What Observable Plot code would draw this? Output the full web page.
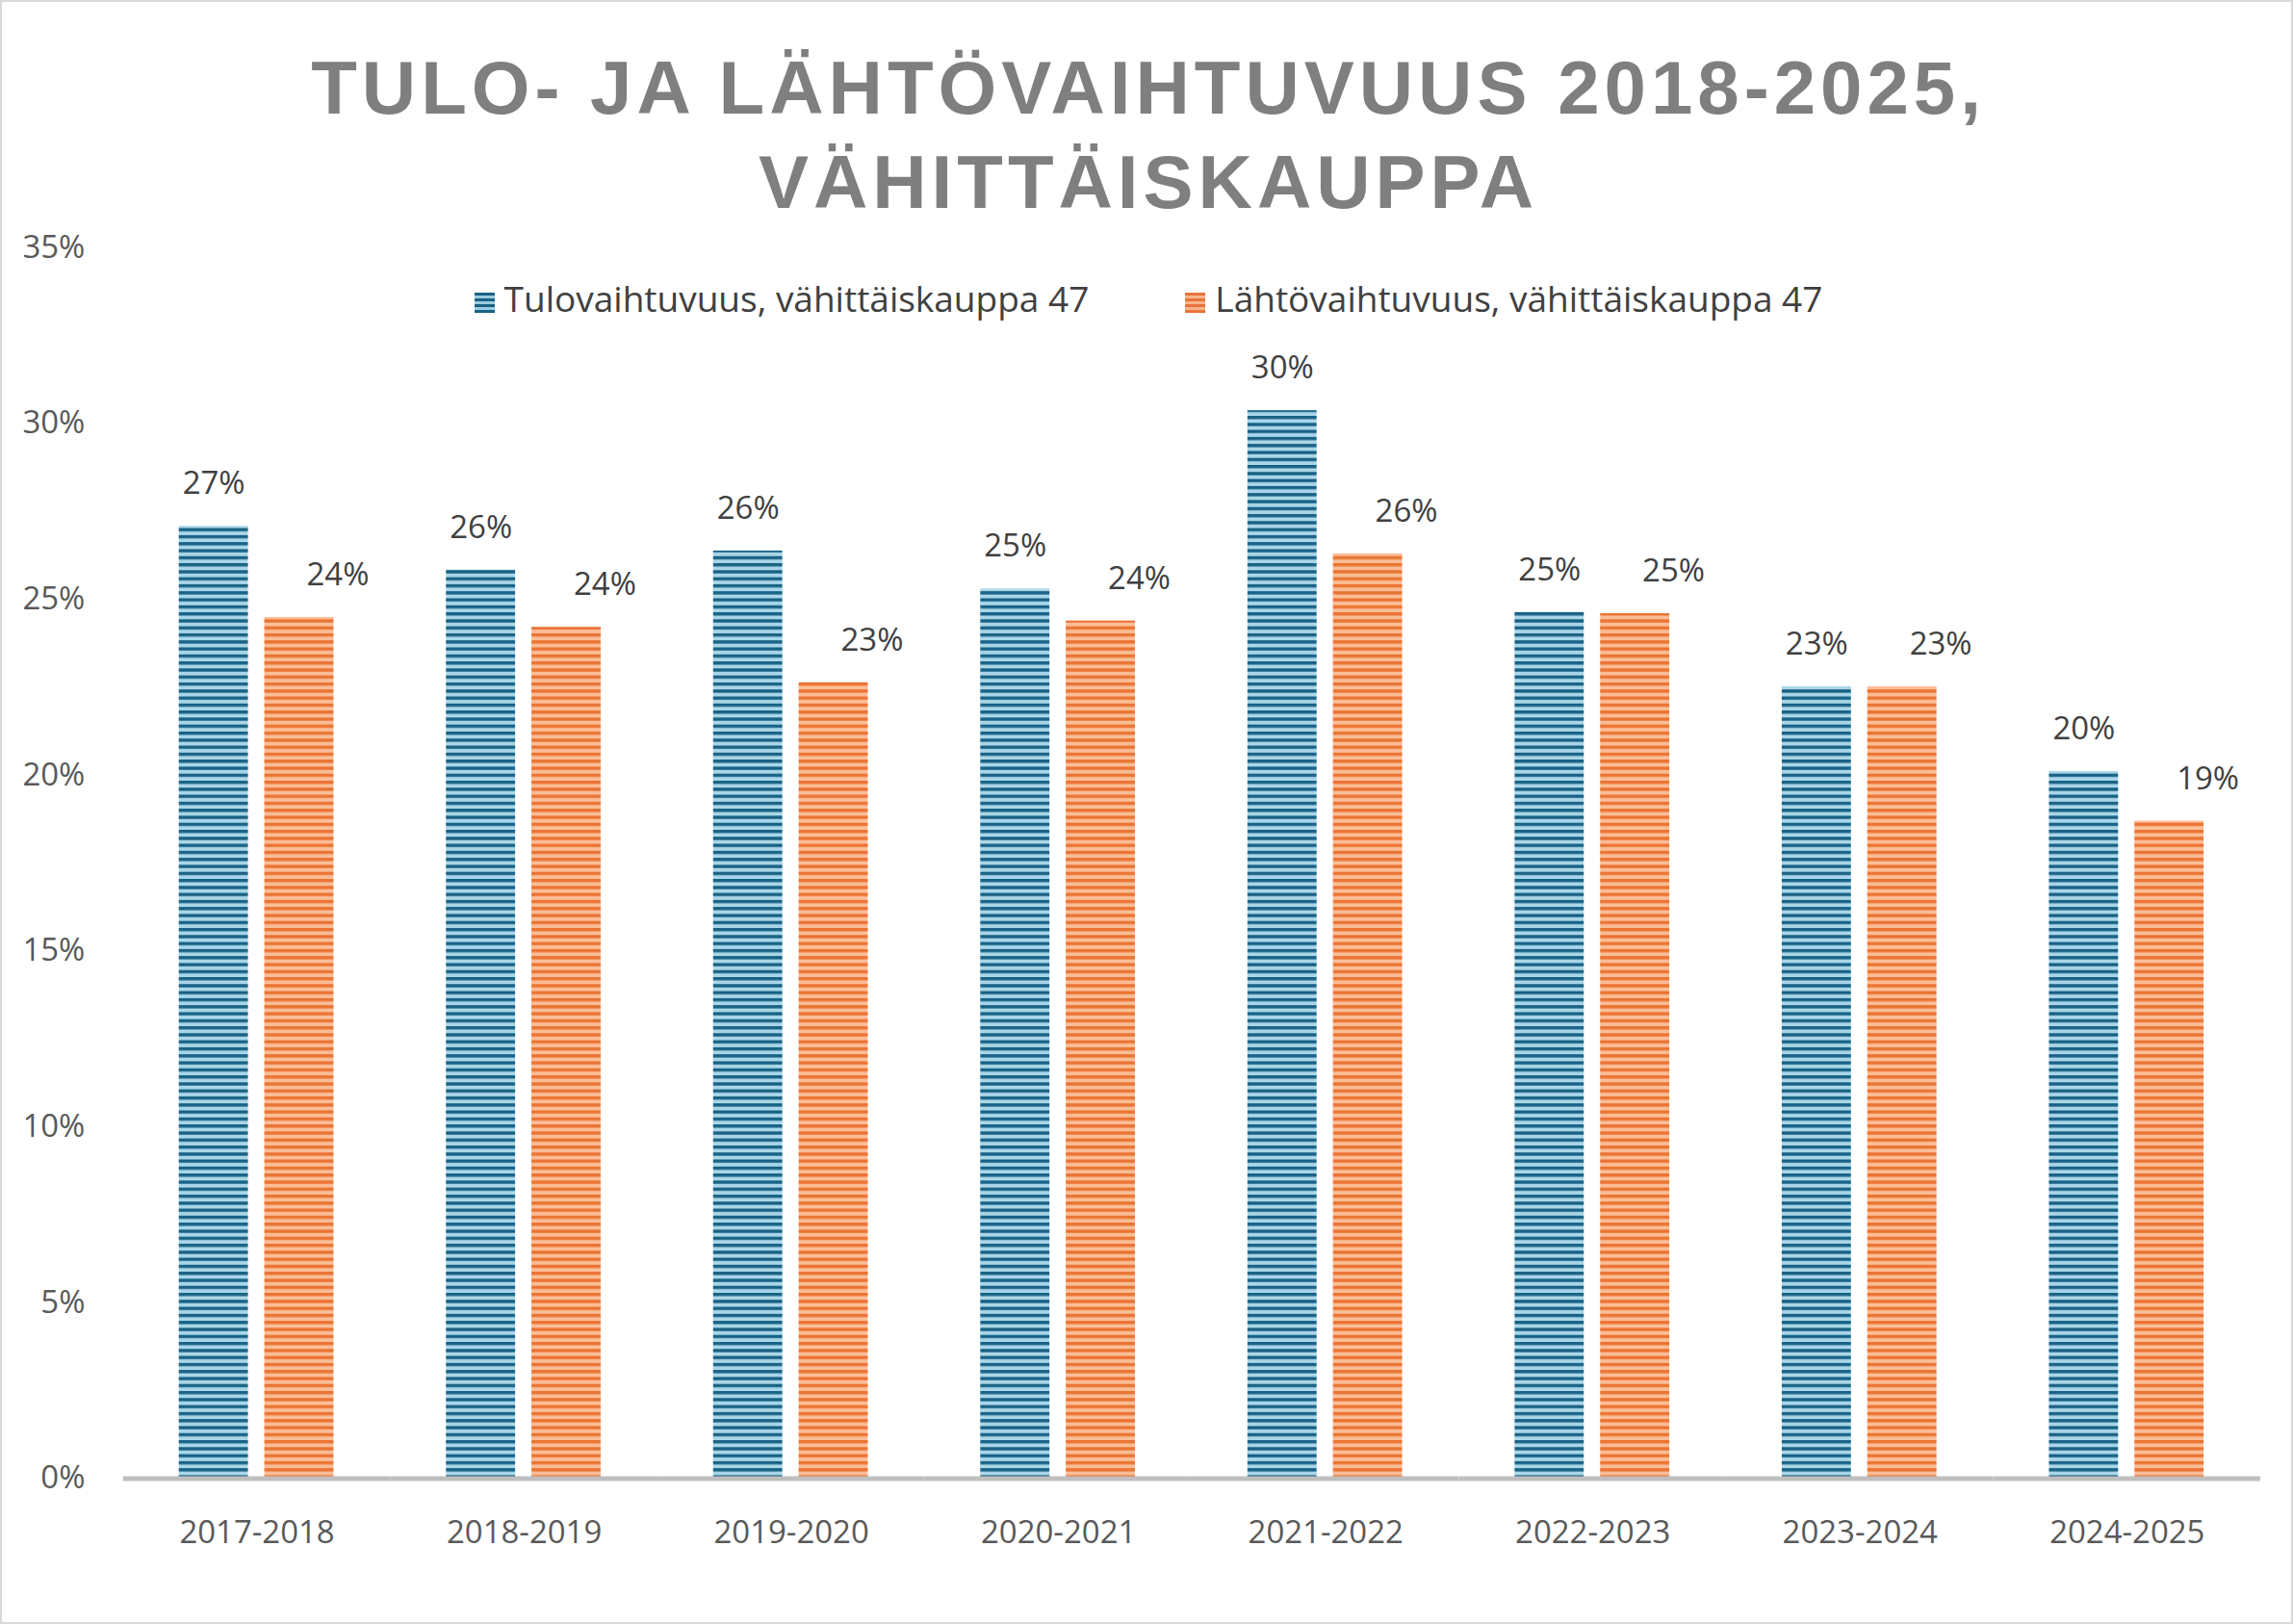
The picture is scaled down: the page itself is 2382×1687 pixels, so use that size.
<!DOCTYPE html>
<html><head><meta charset="utf-8">
<script src="https://cdn.jsdelivr.net/npm/d3@7"></script>
<script src="https://cdn.jsdelivr.net/npm/@observablehq/plot@0.6"></script>
<style>
body{margin:0;background:#fff;font-family:"Open Sans",Arial,sans-serif}
#wrap{position:relative;width:2382px;height:1687px;box-sizing:border-box;border:2px solid #d9d9d9}
#title{position:absolute;top:40px;left:0;width:2382px;text-align:center;font:bold 78px "Liberation Sans",Arial,sans-serif;letter-spacing:5px;color:#7f7f7f;line-height:98px}
#legend{position:absolute;top:282px;left:0;width:2382px;text-align:center;font-size:37px;color:#404040}
#legend span.sw{display:inline-block;width:21px;height:21px;margin-right:10px;vertical-align:middle}
#legend .item{margin:0 50px}
#chart{position:absolute;top:0;left:0}
</style></head><body>
<div id="wrap">
<div id="chart"></div>
<div id="title">TULO- JA LÄHTÖVAIHTUVUUS 2018-2025,<br>VÄHITTÄISKAUPPA</div>
<div id="legend"><span class="item"><span class="sw" style="background:repeating-linear-gradient(#1a6285 0 3px,#9cccdf 3px 6px)"></span>Tulovaihtuvuus, vähittäiskauppa 47</span><span class="item"><span class="sw" style="background:repeating-linear-gradient(#e8743b 0 3px,#f8b48a 3px 6px)"></span>Lähtövaihtuvuus, vähittäiskauppa 47</span></div>
</div>
<script>
const periods = ["2017-2018","2018-2019","2019-2020","2020-2021","2021-2022","2022-2023","2023-2024","2024-2025"];
const series = ["Tulovaihtuvuus, vähittäiskauppa 47","Lähtövaihtuvuus, vähittäiskauppa 47"];
const tulo = [0.2707,0.2583,0.2637,0.2529,0.3036,0.2463,0.2251,0.2010];
const lahto = [0.2448,0.2420,0.2263,0.2438,0.2629,0.2459,0.2251,0.1869];
const yTicks = [0,0.05,0.10,0.15,0.20,0.25,0.30,0.35];

const data = [];
periods.forEach((p,i)=>{
  data.push({period:p, s:series[0], v:tulo[i]});
  data.push({period:p, s:series[1], v:lahto[i]});
});
const fills = {[series[0]]:"url(#pBlue)", [series[1]]:"url(#pOrange)"};

const chart = Plot.plot({
  width:2382, height:1687,
  marginTop:255, marginBottom:151, marginLeft:125, marginRight:31,
  style:{fontFamily:"'Open Sans',Arial,sans-serif", fontSize:"33px", color:"#595959", background:"transparent"},
  fx:{domain:periods, padding:0, label:null, axis:"bottom", tickSize:0, tickPadding:44},
  x:{domain:series, paddingInner:0.186, paddingOuter:0.644, axis:null},
  y:{domain:[0,0.35], ticks:yTicks, tickFormat:d=>Math.round(d*100)+"%", label:null, tickSize:0, tickPadding:40},
  marks:[
    Plot.barY(data,{fx:"period", x:"s", y:"v", fill:d=>fills[d.s]}),
    Plot.text(data.filter(d=>d.s===series[0]),{fx:"period", x:"s", y:"v", text:d=>Math.round(d.v*100)+"%", dy:-44, fill:"#404040", fontSize:33}),
    Plot.text(data.filter(d=>d.s===series[1]),{fx:"period", x:"s", y:"v", text:d=>Math.round(d.v*100)+"%", dy:-44, dx:40, fill:"#404040", fontSize:33}),
    Plot.ruleY([0],{stroke:"#bfbfbf", strokeWidth:5})
  ]
});
const ns="http://www.w3.org/2000/svg";
const defs=document.createElementNS(ns,"defs");
defs.innerHTML=`
<pattern id="pBlue" patternUnits="userSpaceOnUse" width="10" height="7.3">
<rect width="10" height="7.3" fill="#a8d6e8"/><rect y="0" width="10" height="3.4" fill="#1a6285"/></pattern>
<pattern id="pOrange" patternUnits="userSpaceOnUse" width="10" height="7.3">
<rect width="10" height="7.3" fill="#fbbd96"/><rect y="0" width="10" height="3.4" fill="#eb7434"/></pattern>`;
chart.insertBefore(defs, chart.firstChild);
document.getElementById("chart").appendChild(chart);
</script>
</body></html>
